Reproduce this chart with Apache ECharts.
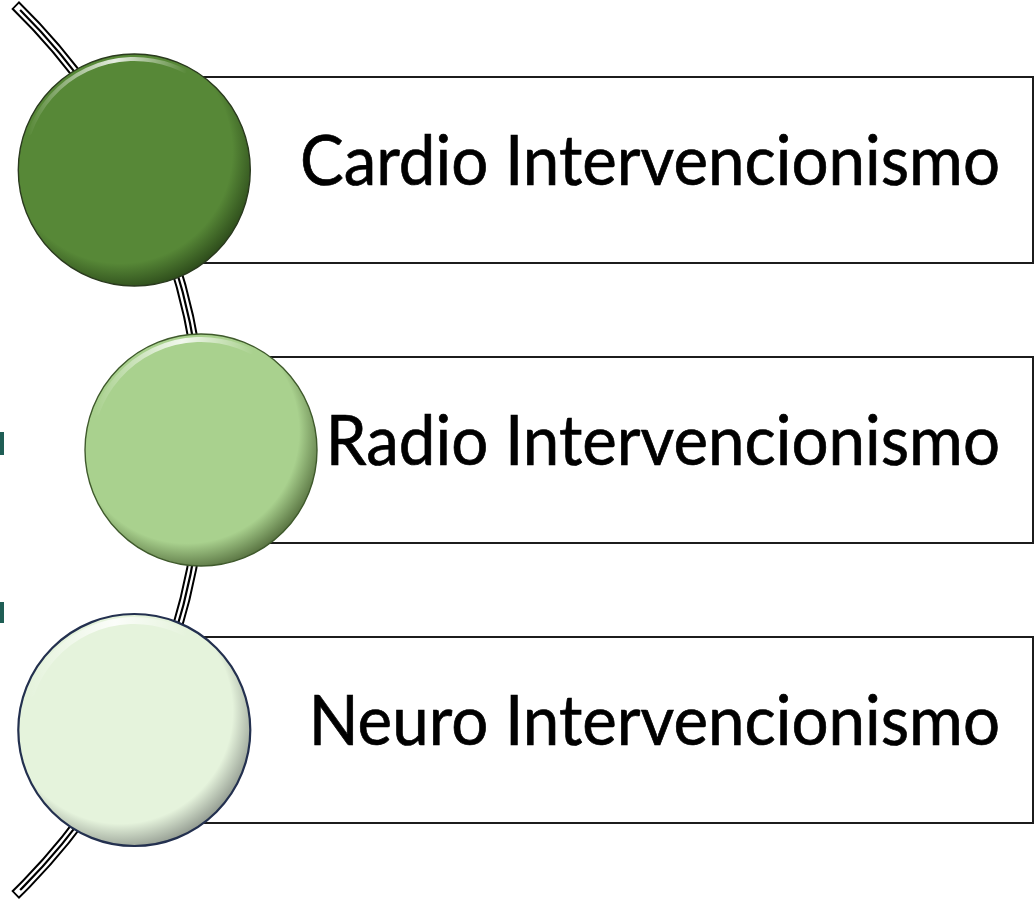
<!DOCTYPE html>
<html><head><meta charset="utf-8">
<script src="https://cdn.jsdelivr.net/npm/echarts@6/dist/echarts.min.js"></script>
<style>html,body{margin:0;padding:0;background:#fff}#c{width:1036px;height:899px}</style>
</head><body><div id="c"></div>
<script>
// ---- data ----
const categories = ['Cardio Intervencionismo', 'Radio Intervencionismo', 'Neuro Intervencionismo'];
const order = [0, 1, 2];

// ---- styles (kept apart from data) ----
const baseColors = ['#578837', '#a9d18e', '#e5f3dc'];
const rimColors = ['#2c4a1a', '#56703f', '#8f978d'];
const outlineColors = ['#2a3a1e', '#3f5a2c', '#23304f'];
const highlightWidths = [4, 5, 7];

// ---- layout constants ----
const ARC_CX = -418, ARC_R = 621, ARC_HALF = 445;
const CIRCLE_R = 116, RECT_HALF = 93, RECT_RIGHT = 1033, TEXT_RIGHT = 1000;
const FONT = '70px Lato';

const mctx = document.createElement('canvas').getContext('2d');
mctx.font = FONT;
const textScale = 700 / mctx.measureText(categories[0]).width;

const chart = echarts.init(document.getElementById('c'), null, {renderer: 'canvas'});

function arcX(y, cs) {
  const cy = cs.y + cs.height / 2;
  return ARC_CX + Math.sqrt(ARC_R * ARC_R - (y - cy) * (y - cy));
}

function renderArc(params, api) {
  const cs = params.coordSys;
  const cy = cs.y + cs.height / 2;
  const th = Math.asin(ARC_HALF / ARC_R);
  const mk = (shrink, w, col) => ({
    type: 'arc',
    shape: {cx: ARC_CX, cy: cy, r: ARC_R, startAngle: -th + shrink / ARC_R, endAngle: th - shrink / ARC_R, clockwise: true},
    style: {stroke: col, lineWidth: w, fill: null, lineCap: 'butt'}
  });
  return {type: 'group', children: [mk(0, 11, '#000'), mk(1.8, 7, '#fff'), mk(7, 2.2, '#000')]};
}

function renderRow(params, api) {
  const i = params.dataIndex;
  const p = api.coord([0, api.value(1)]);
  const cs = params.coordSys;
  const y = p[1];
  const cx = arcX(y, cs) - 2;
  const r = CIRCLE_R;
  const fillGrad = new echarts.graphic.RadialGradient(0.44, 0.42, 0.6, [
    {offset: 0, color: baseColors[i]},
    {offset: 0.8, color: baseColors[i]},
    {offset: 1, color: rimColors[i]}
  ]);
  const hl = new echarts.graphic.LinearGradient(0, 0, 1, 0, [
    {offset: 0, color: 'rgba(255,255,255,0)'},
    {offset: 0.55, color: 'rgba(255,255,255,0.85)'},
    {offset: 1, color: 'rgba(255,255,255,0)'}
  ]);
  return {
    type: 'group',
    children: [
      {type: 'rect', shape: {x: cx, y: y - RECT_HALF, width: RECT_RIGHT - cx, height: RECT_HALF * 2},
       style: {fill: '#fff', stroke: '#1c1c1c', lineWidth: 2}},
      {type: 'text', x: TEXT_RIGHT, y: y - 8, scaleX: textScale,
       style: {text: categories[i], font: FONT, fill: '#000', stroke: '#000', lineWidth: 0.7,
               align: 'right', verticalAlign: 'middle'}},
      {type: 'circle', shape: {cx: cx, cy: y, r: r},
       style: {fill: fillGrad, stroke: outlineColors[i], lineWidth: i === 2 ? 2.2 : 1.4}},
      {type: 'arc', shape: {cx: cx, cy: y, r: r - 3 - highlightWidths[i] / 2, startAngle: -2.8, endAngle: -1.1, clockwise: true},
       style: {stroke: hl, lineWidth: highlightWidths[i], fill: null, lineCap: 'round'}}
    ]
  };
}

chart.setOption({
  animation: false,
  backgroundColor: '#fff',
  grid: {left: 0, right: 0, top: 30, bottom: 29},
  xAxis: {type: 'value', min: 0, max: 1036, show: false},
  yAxis: {type: 'category', inverse: true, data: categories, show: false},
  graphic: [
    {type: 'rect', shape: {x: 0, y: 432, width: 4, height: 23}, style: {fill: '#1f5e55'}},
    {type: 'rect', shape: {x: 0, y: 602, width: 4, height: 21}, style: {fill: '#1f5e55'}}
  ],
  series: [
    {type: 'custom', name: 'arc', renderItem: renderArc, data: [[0, categories[1]]], z: 1, silent: true},
    {type: 'custom', name: 'rows', renderItem: renderRow,
     data: order.map(k => [0, categories[k]]), z: 2, silent: true}
  ]
});
</script></body></html>
